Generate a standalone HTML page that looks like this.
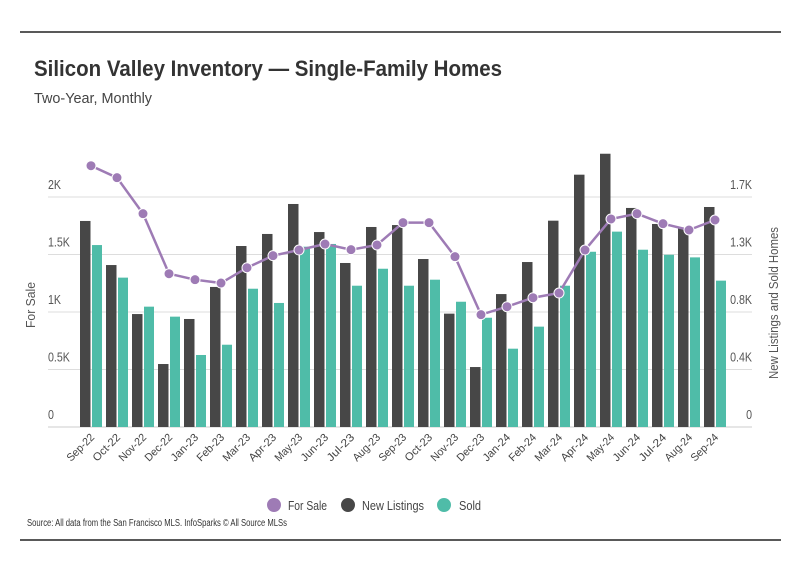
<!DOCTYPE html>
<html><head><meta charset="utf-8"><style>
body{margin:0;background:#fff;width:801px;height:575px;overflow:hidden;font-family:"Liberation Sans",sans-serif;}
svg text{font-family:"Liberation Sans",sans-serif;}
</style></head><body>
<svg id="c" width="801" height="575">
<line x1="20" y1="32" x2="781" y2="32" stroke="#222" stroke-width="1.5"/>
<text x="34" y="76" font-size="22" font-weight="bold" fill="#333" textLength="468" lengthAdjust="spacingAndGlyphs">Silicon Valley Inventory — Single-Family Homes</text>
<text x="34" y="103" font-size="15" fill="#444" textLength="118" lengthAdjust="spacingAndGlyphs">Two-Year, Monthly</text>
<text transform="translate(35,305) rotate(-90)" text-anchor="middle" font-size="13" fill="#555" textLength="46" lengthAdjust="spacingAndGlyphs">For Sale</text>
<text transform="translate(778,303) rotate(-90)" text-anchor="middle" font-size="13" fill="#555" textLength="152" lengthAdjust="spacingAndGlyphs">New Listings and Sold Homes</text>
<g id="grid"></g><g id="bars"></g><g id="line"></g><g id="xl"></g>
<g>
<circle cx="274" cy="505" r="7" fill="#9e7bb5"/>
<text x="288" y="510" font-size="13" fill="#444" textLength="39" lengthAdjust="spacingAndGlyphs">For Sale</text>
<circle cx="348" cy="505" r="7" fill="#474747"/>
<text x="362" y="510" font-size="13" fill="#444" textLength="62" lengthAdjust="spacingAndGlyphs">New Listings</text>
<circle cx="444" cy="505" r="7" fill="#4fbca8"/>
<text x="459" y="510" font-size="13" fill="#444" textLength="22" lengthAdjust="spacingAndGlyphs">Sold</text>
</g>
<text x="27" y="526" font-size="10" fill="#333" textLength="260" lengthAdjust="spacingAndGlyphs">Source:  All data from the San Francisco MLS. InfoSparks © All Source MLSs</text>
<line x1="20" y1="540" x2="781" y2="540" stroke="#222" stroke-width="1.5"/>
</svg>
<script>
const categories=["Sep-22","Oct-22","Nov-22","Dec-22","Jan-23","Feb-23","Mar-23","Apr-23","May-23","Jun-23","Jul-23","Aug-23","Sep-23","Oct-23","Nov-23","Dec-23","Jan-24","Feb-24","Mar-24","Apr-24","May-24","Jun-24","Jul-24","Aug-24","Sep-24"];
const forSale=[2272,2168,1855,1333,1281,1252,1385,1490,1539,1591,1542,1583,1777,1777,1481,977,1046,1124,1165,1539,1809,1855,1768,1713,1800];
const newListings=[1505,1183,825,460,789,1023,1322,1410,1629,1424,1198,1461,1475,1227,828,438,971,1205,1507,1843,1996,1600,1483,1451,1607];
const sold=[1329,1091,879,806,526,601,1010,906,1317,1337,1032,1156,1032,1076,915,798,572,733,1032,1280,1427,1295,1258,1239,1069];
const leftTicks=[0,500,1000,1500,2000];
const leftTickLabels=["0","0.5K","1K","1.5K","2K"];
const rightTickLabels=["0","0.4K","0.8K","1.3K","1.7K"];
const NS="http://www.w3.org/2000/svg";
const y0=427, pxPerGrid=57.5;
function yL(v){return y0-v/500*pxPerGrid;}
function yR(v){return y0-v/420*pxPerGrid;}
function xG(i){return 80+i*26;}
function mk(t,a,p){const e=document.createElementNS(NS,t);for(const k in a)e.setAttribute(k,a[k]);p.appendChild(e);return e;}
const grid=document.getElementById('grid');
leftTicks.forEach((v,i)=>{
  const l=mk('line',{x1:48,x2:752,y1:yL(v),y2:yL(v),stroke:i==0?'#ccc':'#ddd','stroke-width':1},grid);
  
  
  const t=mk('text',{x:48,y:yL(v)-8,'font-size':13,fill:'#555',transform:`translate(48,0) scale(0.82,1) translate(-48,0)`},grid);t.textContent=leftTickLabels[i];
  
  
  const r=mk('text',{x:752,y:yL(v)-8,'font-size':13,fill:'#555','text-anchor':'end',transform:`translate(752,0) scale(0.82,1) translate(-752,0)`},grid);r.textContent=rightTickLabels[i];
  
  
});
const bars=document.getElementById('bars');
categories.forEach((c,i)=>{
  const x=xG(i);
  const b1=mk('rect',{x:x,y:yR(newListings[i]),width:10.5,height:y0-yR(newListings[i]),fill:'#474747'},bars);
  
  
  const b2=mk('rect',{x:x+12,y:yR(sold[i]),width:10,height:y0-yR(sold[i]),fill:'#4fbca8'},bars);
  
  
  const t=mk('text',{transform:`translate(${x+15},${438}) rotate(-45)`,'text-anchor':'end','font-size':11,fill:'#444',textLength:34,lengthAdjust:'spacingAndGlyphs'},document.getElementById('xl'));
  t.textContent=c;
  
  
});
const lg=document.getElementById('line');
const pts=forSale.map((v,i)=>[xG(i)+11,yL(v)]);
const pl=mk('polyline',{points:pts.map(p=>p.join(',')).join(' '),fill:'none',stroke:'#9e7bb5','stroke-width':2.5},lg);


pts.forEach(p=>{
  const c=mk('circle',{cx:p[0],cy:p[1],r:5,fill:'#9e7bb5',stroke:'#fff','stroke-width':1},lg);
  
  
});
</script>
</body></html>
